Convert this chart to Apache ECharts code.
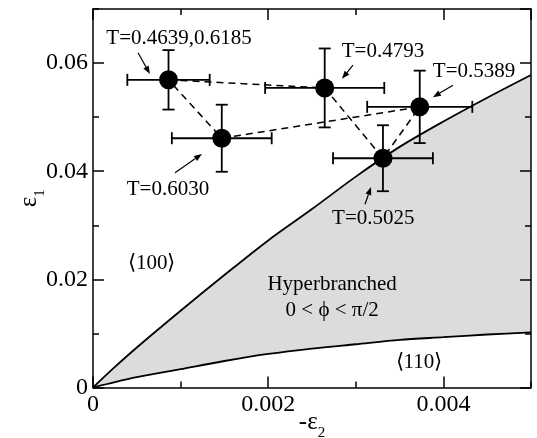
<!DOCTYPE html>
<html><head><meta charset="utf-8">
<script src="https://cdn.jsdelivr.net/npm/echarts@6/dist/echarts.min.js"></script>
<style>html,body{margin:0;padding:0;background:#fff}#c{width:537px;height:438px}</style>
</head><body><div id="c"></div>
<script>
// Region boundaries
const boundaryX = [0, 0.00025, 0.0005, 0.001, 0.0015, 0.002, 0.0025, 0.003, 0.0035, 0.004, 0.0045, 0.005];
const upperBoundary = [0, 0.0038, 0.0074, 0.0142, 0.0208, 0.0272, 0.0330, 0.0390, 0.0445, 0.0492, 0.0536, 0.0578];
const lowerBoundary = [0, 0.0010, 0.0019, 0.0034, 0.0049, 0.0062, 0.0072, 0.0080, 0.0088, 0.0093, 0.0098, 0.0102];

// Data points
const pointLabels = ['T=0.4639,0.6185', 'T=0.6030', 'T=0.4793', 'T=0.5389', 'T=0.5025'];
const eps2 = [0.000862, 0.00147, 0.002645, 0.00373, 0.00331];
const eps1 = [0.0569, 0.0461, 0.0554, 0.0519, 0.0424];
const eps2Err = [0.00047, 0.00057, 0.00068, 0.0006, 0.00057];
const eps1Err = [0.0055, 0.0062, 0.0073, 0.0067, 0.0061];
const pathOrder = [0, 2, 4, 3, 1, 0];

// Annotation positions (data units)
const labelX = [0.000982, 0.000856, 0.00331, 0.00435, 0.0032];
const labelY = [0.0646, 0.0367, 0.0622, 0.0584, 0.0312];
const arrowX0 = [0.000514, 0.000936, 0.002968, 0.00411, 0.003105];
const arrowY0 = [0.0619, 0.0397, 0.0596, 0.0559, 0.0339];
const arrowX1 = [0.00065, 0.001244, 0.002842, 0.00388, 0.003174];
const arrowY1 = [0.0580, 0.0432, 0.0571, 0.0537, 0.0371];

const regionText = ['\u27E8100\u27E9', 'Hyperbranched', '0 < \u03D5 < \u03C0/2', '\u27E8110\u27E9'];
const regionX = [0.00067, 0.00273, 0.00273, 0.00372];
const regionY = [0.0230, 0.0190, 0.0143, 0.0047];

// Axis ticks
const xMin = 0, xMax = 0.005, xMajor = 0.002, xMinor = 0.001;
const yMin = 0, yMax = 0.07, yMajor = 0.02, yMinor = 0.01;

const FONT = 'Liberation Serif';
const black = '#000';

function xAx(pos, interval, len, showLine, showLabel, extra) {
  return Object.assign({
    type: 'value', min: xMin, max: xMax, interval: interval, position: pos, z: 5,
    axisLine: {show: showLine, onZero: false, lineStyle: {color: black, width: 1.5}},
    axisTick: {show: true, inside: true, length: len, lineStyle: {color: black, width: 1.5}},
    axisLabel: {show: showLabel, color: black, fontFamily: FONT, fontSize: 24, margin: 5, showMaxLabel: false,
      formatter: v => v === 0 ? '0' : v.toFixed(3)},
    splitLine: {show: false}, minorTick: {show: false}
  }, extra || {});
}
function yAx(pos, interval, len, showLine, showLabel, extra) {
  return Object.assign({
    type: 'value', min: yMin, max: yMax, interval: interval, position: pos, z: 5,
    axisLine: {show: showLine, onZero: false, lineStyle: {color: black, width: 1.5}},
    axisTick: {show: true, inside: true, length: len, lineStyle: {color: black, width: 1.5}},
    axisLabel: {show: showLabel, color: black, fontFamily: FONT, fontSize: 24, margin: 5, showMaxLabel: false,
      formatter: v => v === 0 ? '0' : v.toFixed(2)},
    splitLine: {show: false}, minorTick: {show: false}
  }, extra || {});
}

const subRich = {
  e: {fontFamily: FONT, fontSize: 25, color: black, verticalAlign: 'top', lineHeight: 26},
  m: {fontFamily: FONT, fontSize: 25, color: black, verticalAlign: 'top', lineHeight: 26},
  s: {fontFamily: FONT, fontSize: 15, color: black, verticalAlign: 'top', lineHeight: 15, padding: [16, 0, 0, 0]}
};

const chart = echarts.init(document.getElementById('c'), null, {renderer: 'canvas'});
chart.setOption({
  animation: false,
  backgroundColor: '#fff',
  grid: {left: 93, right: 6, top: 9, bottom: 50.5, containLabel: false, outerBoundsMode: 'none'},
  xAxis: [
    xAx('bottom', xMajor, 11, true, true, {name: '{m|-}{e|\u03B5}{s|2}', nameLocation: 'middle', nameGap: 22,
      nameMoveOverlap: false, nameTextStyle: {rich: subRich, verticalAlign: 'top'}}),
    xAx('bottom', xMinor, 6, false, false),
    xAx('top', xMajor, 11, true, false),
    xAx('top', xMinor, 6, false, false)
  ],
  yAxis: [
    yAx('left', yMajor, 11, true, true, {name: '{e|\u03B5}{s|1}', nameLocation: 'middle', nameGap: 50, nameRotate: 90,
      nameMoveOverlap: false, nameTextStyle: {rich: subRich}}),
    yAx('left', yMinor, 6, false, false),
    yAx('right', yMajor, 11, true, false),
    yAx('right', yMinor, 6, false, false)
  ],
  series: [
    {
      type: 'line', smooth: 0.3, symbol: 'none', z: 1,
      data: boundaryX.map((x, i) => [x, upperBoundary[i]]),
      lineStyle: {color: black, width: 1.8},
      areaStyle: {color: '#dbdcde', opacity: 1, origin: 'start'}
    },
    {
      type: 'line', smooth: 0.3, symbol: 'none', z: 2,
      data: boundaryX.map((x, i) => [x, lowerBoundary[i]]),
      lineStyle: {color: black, width: 1.8},
      areaStyle: {color: '#ffffff', opacity: 1, origin: 'start'}
    },
    {
      type: 'line', symbol: 'none', z: 3,
      data: pathOrder.map(i => [eps2[i], eps1[i]]),
      lineStyle: {color: black, width: 1.5, type: [7, 5]}
    },
    {
      type: 'custom', z: 4, clip: false,
      data: eps2.map((x, i) => [x, eps1[i], eps2Err[i], eps1Err[i]]),
      renderItem: function (params, api) {
        const x = api.value(0), y = api.value(1), dx = api.value(2), dy = api.value(3);
        const l = api.coord([x - dx, y]), r = api.coord([x + dx, y]);
        const t = api.coord([x, y + dy]), b = api.coord([x, y - dy]);
        const cap = 6;
        const st = {stroke: black, lineWidth: 1.8, fill: null};
        return {type: 'group', children: [
          {type: 'line', shape: {x1: l[0], y1: l[1], x2: r[0], y2: r[1]}, style: st},
          {type: 'line', shape: {x1: t[0], y1: t[1], x2: b[0], y2: b[1]}, style: st},
          {type: 'line', shape: {x1: l[0], y1: l[1] - cap, x2: l[0], y2: l[1] + cap}, style: st},
          {type: 'line', shape: {x1: r[0], y1: r[1] - cap, x2: r[0], y2: r[1] + cap}, style: st},
          {type: 'line', shape: {x1: t[0] - cap, y1: t[1], x2: t[0] + cap, y2: t[1]}, style: st},
          {type: 'line', shape: {x1: b[0] - cap, y1: b[1], x2: b[0] + cap, y2: b[1]}, style: st}
        ]};
      }
    },
    {
      type: 'scatter', z: 5, symbol: 'circle', symbolSize: 19,
      data: eps2.map((x, i) => [x, eps1[i]]),
      itemStyle: {color: black, opacity: 1}
    },
    {
      type: 'custom', z: 6, clip: false,
      data: arrowX0.map((x, i) => [x, arrowY0[i], arrowX1[i], arrowY1[i]]),
      renderItem: function (params, api) {
        const p0 = api.coord([api.value(0), api.value(1)]);
        const p1 = api.coord([api.value(2), api.value(3)]);
        const ang = Math.atan2(p1[1] - p0[1], p1[0] - p0[0]);
        const hl = 8, hw = 3;
        const bx = p1[0] - hl * Math.cos(ang), by = p1[1] - hl * Math.sin(ang);
        const nx = -Math.sin(ang) * hw, ny = Math.cos(ang) * hw;
        return {type: 'group', children: [
          {type: 'line', shape: {x1: p0[0], y1: p0[1], x2: bx, y2: by}, style: {stroke: black, lineWidth: 1.2}},
          {type: 'polygon', shape: {points: [[p1[0], p1[1]], [bx + nx, by + ny], [bx - nx, by - ny]]}, style: {fill: black}}
        ]};
      }
    },
    {
      type: 'custom', z: 6, clip: false,
      data: labelX.map((x, i) => [x, labelY[i], i]),
      renderItem: function (params, api) {
        const p = api.coord([api.value(0), api.value(1)]);
        return {type: 'text', x: p[0], y: p[1], style: {
          text: pointLabels[api.value(2)], fill: black, fontFamily: FONT, fontSize: 21,
          align: 'center', verticalAlign: 'middle'}};
      }
    },
    {
      type: 'custom', z: 6, clip: false,
      data: regionX.map((x, i) => [x, regionY[i], i]),
      renderItem: function (params, api) {
        const p = api.coord([api.value(0), api.value(1)]);
        return {type: 'text', x: p[0], y: p[1], style: {
          text: regionText[api.value(2)], fill: black, fontFamily: FONT, fontSize: 21,
          align: 'center', verticalAlign: 'middle'}};
      }
    }
  ]
});
</script>
</body></html>
